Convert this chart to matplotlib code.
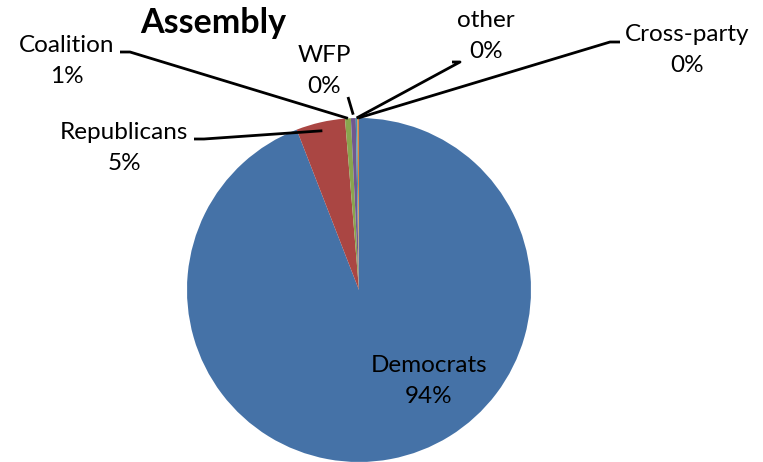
import numpy as np
import matplotlib.pyplot as plt

plt.rcParams['font.family'] = ['Lato', 'DejaVu Sans']

# seat share by party, clockwise from 12 o'clock
parties = ['Democrats', 'Republicans', 'Coalition', 'WFP', 'other', 'Cross-party']
shares = [94.1, 4.6, 0.55, 0.45, 0.15, 0.15]
colors = ['#4572A7', '#AA4643', '#89A54E', '#71588F', '#4198AF', '#DB843D']

W, H = 763, 462
fig = plt.figure(figsize=(W / 100, H / 100), dpi=100)
ax = fig.add_axes([0, 0, 1, 1])

cx, cy, r = 359, H - 290, 172
wedges, _ = ax.pie(shares, colors=colors, startangle=90, counterclock=False,
                   center=(cx, cy), radius=r, frame=True,
                   wedgeprops=dict(linewidth=0))
ax.set_xlim(0, W)
ax.set_ylim(0, H)
ax.set_aspect('equal')
ax.axis('off')

def img(x, y):
    return x, H - y

# label text positions and leader elbow points (image coords)
label_pos = {
    'Democrats': (429, 381),
    'Republicans': (124, 148),
    'Coalition': (67, 61),
    'WFP': (324, 71),
    'other': (486, 36),
    'Cross-party': (687, 50),
}
elbows = {
    'Republicans': [(194, 139), (204, 139)],
    'Coalition': [(120, 52), (130, 52)],
    'WFP': [(348, 97)],
    'other': [(452, 62), (460, 62)],
    'Cross-party': [(620, 42), (610, 42)],
}
tips = {
    'Republicans': 0.95,
    'Coalition': 1.0,
    'WFP': 1.02,
    'other': 1.0,
    'Cross-party': 1.0,
}

for name, share, w in zip(parties, shares, wedges):
    x, y = img(*label_pos[name])
    ax.text(x, y, f'{name}\n{share:.0f}%', ha='center', va='center',
            fontsize=17.5, linespacing=1.55, color='black')
    if name in elbows:
        ang = np.deg2rad((w.theta1 + w.theta2) / 2)
        tx = cx + r * tips[name] * np.cos(ang)
        ty = cy + r * tips[name] * np.sin(ang)
        pts = [img(px, py) for px, py in elbows[name]] + [(tx, ty)]
        xs, ys = zip(*pts)
        ax.plot(xs, ys, color='black', lw=2, solid_capstyle='butt')

tx, ty = img(213, 23)
ax.text(tx, ty, 'Assembly', ha='center', va='center', fontsize=24.5,
        fontweight='bold')

fig.savefig('out.png', dpi=100)
